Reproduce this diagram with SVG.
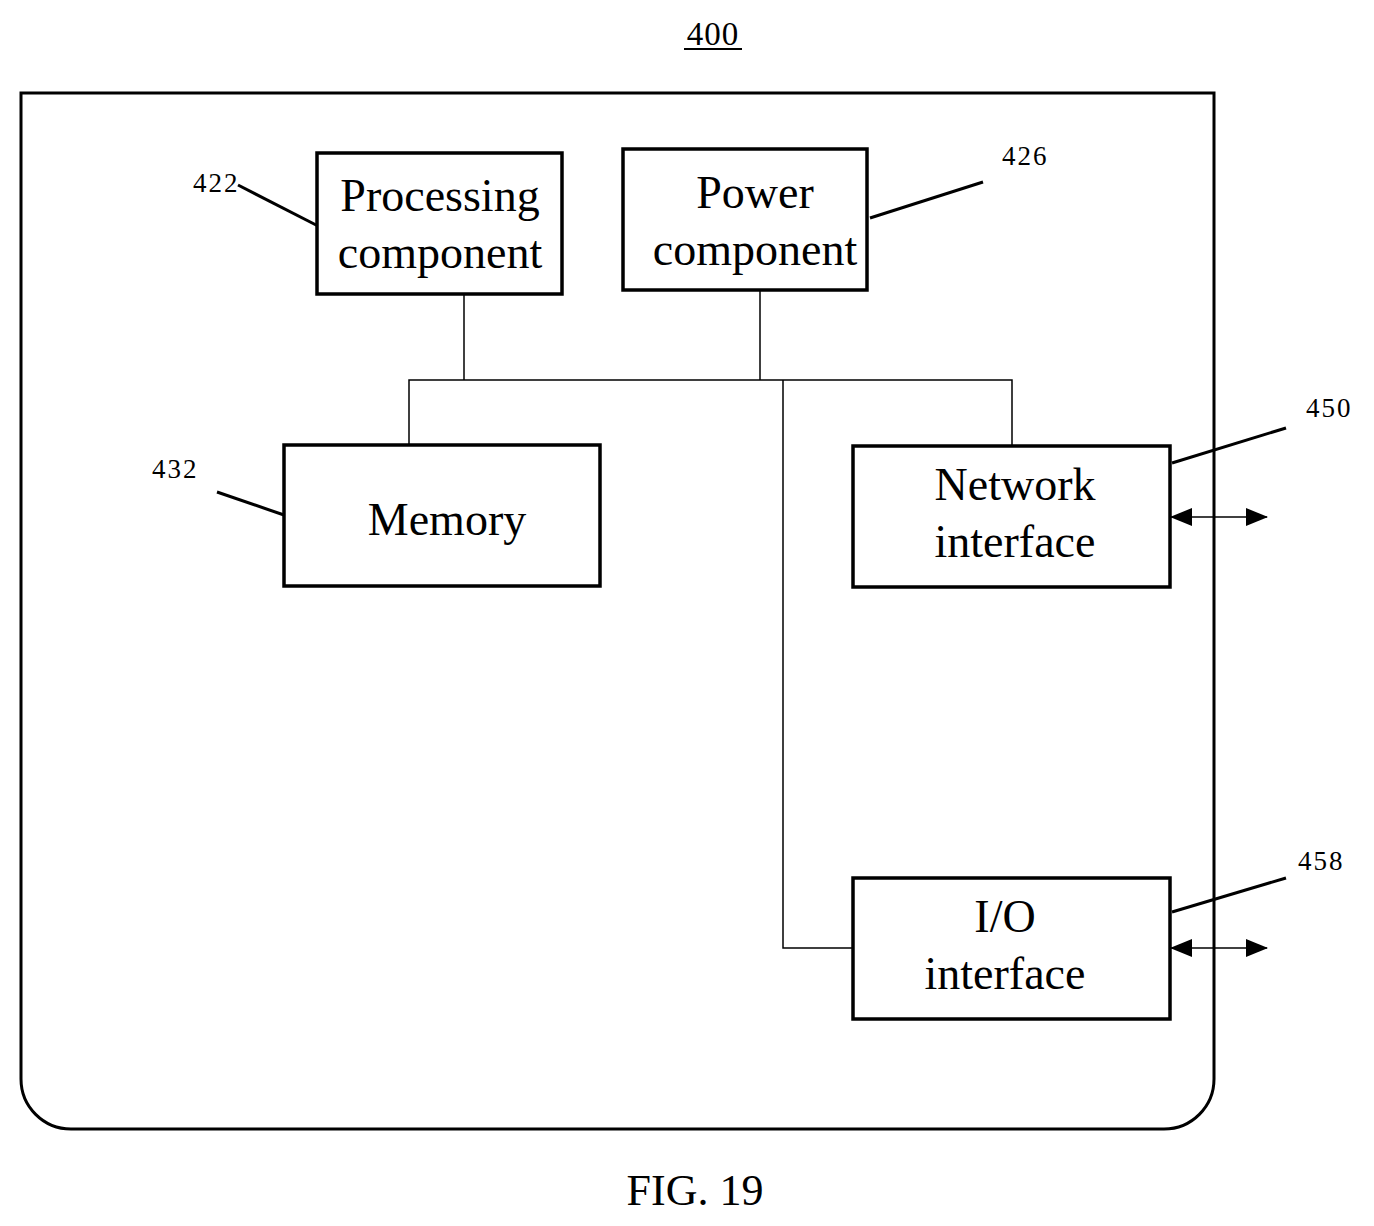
<svg xmlns="http://www.w3.org/2000/svg" width="1374" height="1226" viewBox="0 0 1374 1226">
<defs>
<style>
.box{fill:#fff;stroke:#000;stroke-width:3.5}
.t{font-family:"Liberation Serif",serif;font-size:46px;text-anchor:middle;fill:#000}
.n{font-family:"Liberation Serif",serif;font-size:27px;letter-spacing:2px;fill:#000}
.c{stroke:#000;stroke-width:1.5;fill:none}
.a{stroke:#000;stroke-width:1.5;fill:none;marker-start:url(#ah);marker-end:url(#ah)}
.l{stroke:#000;stroke-width:3;fill:none}
</style>
<marker id="ah" markerWidth="22" markerHeight="18" refX="21" refY="9" orient="auto-start-reverse" markerUnits="userSpaceOnUse" viewBox="0 0 22 18"><path d="M0,0 L22,9 L0,18 z" fill="#000"/></marker>
</defs>
<rect width="1374" height="1226" fill="#fff"/>
<text x="713" y="45" class="n" text-anchor="middle" style="font-size:33px;letter-spacing:1px">400</text>
<line x1="684" y1="49" x2="742" y2="49" stroke="#000" stroke-width="2"/>
<path d="M21,93 H1214 V1079 A50,50 0 0 1 1164,1129 H71 A50,50 0 0 1 21,1079 Z" fill="none" stroke="#000" stroke-width="3"/>
<g id="connectors">
<polyline class="c" points="464,294 464,380"/>
<polyline class="c" points="760,290 760,380"/>
<polyline class="c" points="409,445 409,380 1012,380 1012,446"/>
<polyline class="c" points="783,380 783,948 853,948"/>
<line class="a" x1="1171" y1="517" x2="1267" y2="517"/>
<line class="a" x1="1171" y1="948" x2="1267" y2="948"/>
<line class="l" x1="238" y1="185" x2="320" y2="227"/>
<line class="l" x1="870" y1="218" x2="983" y2="182"/>
<line class="l" x1="217" y1="492" x2="284" y2="515"/>
<line class="l" x1="1172" y1="463" x2="1286" y2="428"/>
<line class="l" x1="1172" y1="912" x2="1286" y2="878"/>
</g>
<g id="processing"><rect class="box" x="317" y="153" width="245" height="141"/><text class="t" x="440" y="211">Processing</text><text class="t" x="440" y="268">component</text><text class="n" x="193" y="192">422</text></g>
<g id="power"><rect class="box" x="623" y="149" width="244" height="141"/><text class="t" x="755" y="208">Power</text><text class="t" x="755" y="265">component</text><text class="n" x="1002" y="165">426</text></g>
<g id="memory"><rect class="box" x="284" y="445" width="316" height="141"/><text class="t" x="447" y="535">Memory</text><text class="n" x="152" y="478">432</text></g>
<g id="network"><rect class="box" x="853" y="446" width="317" height="141"/><text class="t" x="1015" y="500">Network</text><text class="t" x="1015" y="557">interface</text><text class="n" x="1306" y="417">450</text></g>
<g id="io"><rect class="box" x="853" y="878" width="317" height="141"/><text class="t" x="1005" y="932">I/O</text><text class="t" x="1005" y="989">interface</text><text class="n" x="1298" y="870">458</text></g>
<text x="695" y="1205" class="t" style="font-size:44px">FIG. 19</text>
</svg>
